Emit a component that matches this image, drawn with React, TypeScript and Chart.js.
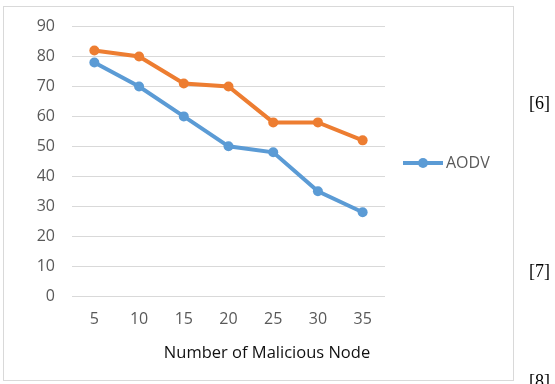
import { useEffect, useRef } from "react";
import { Chart, registerables } from "chart.js";

Chart.register(...registerables);

// Number of malicious nodes on the x axis
const nodeCounts = ["5", "10", "15", "20", "25", "30", "35"];
// AODV series
const aodvLabel = "AODV";
const aodvValues = [78, 70, 60, 50, 48, 35, 28];
// Second (unnamed) series
const secondValues = [82, 80, 71, 70, 58, 58, 52];

const yMin = 0;
const yMax = 90;
const yStep = 10;

const xAxisTitle = "Number of Malicious Node";
const sideRefs = [
  { text: "[6]", top: 93 },
  { text: "[7]", top: 261 },
  { text: "[8]", top: 371 },
];

const BLUE = "#5B9BD5";
const ORANGE = "#ED7D31";
const FONT = "'Open Sans', 'Noto Sans', sans-serif";

// Draws the axis title and the right-hand legend on the canvas
const extrasPlugin = {
  id: "extras",
  afterDraw(chart: any) {
    const ctx = chart.ctx as CanvasRenderingContext2D;
    ctx.save();
    ctx.font = `16.5px ${FONT}`;
    ctx.fillStyle = "#111";
    ctx.textAlign = "center";
    ctx.textBaseline = "middle";
    ctx.fillText(xAxisTitle, 267, 353);

    let y = 163;
    ctx.font = `16px ${FONT}`;
    chart.data.datasets.forEach((ds: any) => {
      if (!ds.label) return;
      const x0 = 403;
      const x1 = 443;
      ctx.strokeStyle = ds.borderColor;
      ctx.lineWidth = ds.borderWidth;
      ctx.beginPath();
      ctx.moveTo(x0, y);
      ctx.lineTo(x1, y);
      ctx.stroke();
      ctx.fillStyle = ds.pointBackgroundColor;
      ctx.beginPath();
      ctx.arc((x0 + x1) / 2, y, ds.pointRadius, 0, Math.PI * 2);
      ctx.fill();
      ctx.fillStyle = "#595959";
      ctx.textAlign = "left";
      ctx.fillText(ds.label, 446, y);
      y += 24;
    });
    ctx.restore();
  },
};

export default function App() {
  const canvasRef = useRef<HTMLCanvasElement | null>(null);

  useEffect(() => {
    const canvas = canvasRef.current;
    if (!canvas) return;
    const chart = new Chart(canvas, {
      type: "line",
      data: {
        labels: nodeCounts,
        datasets: [
          {
            label: aodvLabel,
            data: aodvValues,
            borderColor: BLUE,
            backgroundColor: BLUE,
            pointBackgroundColor: BLUE,
            pointBorderColor: BLUE,
            borderWidth: 4,
            pointRadius: 5,
            pointBorderWidth: 0,
            tension: 0,
            order: 2,
          },
          {
            label: "",
            data: secondValues,
            borderColor: ORANGE,
            backgroundColor: ORANGE,
            pointBackgroundColor: ORANGE,
            pointBorderColor: ORANGE,
            borderWidth: 4,
            pointRadius: 5,
            pointBorderWidth: 0,
            tension: 0,
            order: 1,
          },
        ],
      },
      options: {
        responsive: false,
        animation: false,
        devicePixelRatio: 1,
        layout: { padding: { top: 22, right: 170, bottom: 0, left: 0 } },
        plugins: {
          legend: { display: false },
          tooltip: { enabled: false },
        },
        scales: {
          x: {
            type: "category",
            offset: true,
            grid: { display: false, drawTicks: false },
            border: { display: false },
            ticks: {
              color: "#595959",
              font: { family: FONT, size: 16 },
              padding: 14,
              maxRotation: 0,
            },
            afterFit(scale: any) {
              scale.height = 88;
            },
          },
          y: {
            min: yMin,
            max: yMax,
            grid: { color: "#d9d9d9", lineWidth: 1, drawTicks: false },
            border: { display: false },
            ticks: {
              stepSize: yStep,
              color: "#595959",
              font: { family: FONT, size: 16 },
              padding: 17,
            },
            afterFit(scale: any) {
              scale.width = 72;
            },
          },
        },
      },
      plugins: [extrasPlugin],
    });
    return () => chart.destroy();
  }, []);

  return (
    <div
      style={{
        position: "fixed",
        left: 0,
        top: 0,
        width: 555,
        height: 384,
        background: "#fff",
        overflow: "hidden",
      }}
    >
      <div
        style={{
          position: "absolute",
          left: 3,
          top: 6,
          width: 509,
          height: 373,
          border: "1px solid #d9d9d9",
        }}
      />
      <canvas
        ref={canvasRef}
        width={555}
        height={384}
        style={{ position: "absolute", left: 0, top: 0, width: 555, height: 384 }}
      />
      {sideRefs.map((r) => (
        <span
          key={r.text}
          style={{
            position: "absolute",
            left: 529,
            top: r.top,
            fontFamily: "'Liberation Serif', 'Times New Roman', serif",
            fontSize: 18,
            lineHeight: "20px",
            color: "#000",
          }}
        >
          {r.text}
        </span>
      ))}
    </div>
  );
}
